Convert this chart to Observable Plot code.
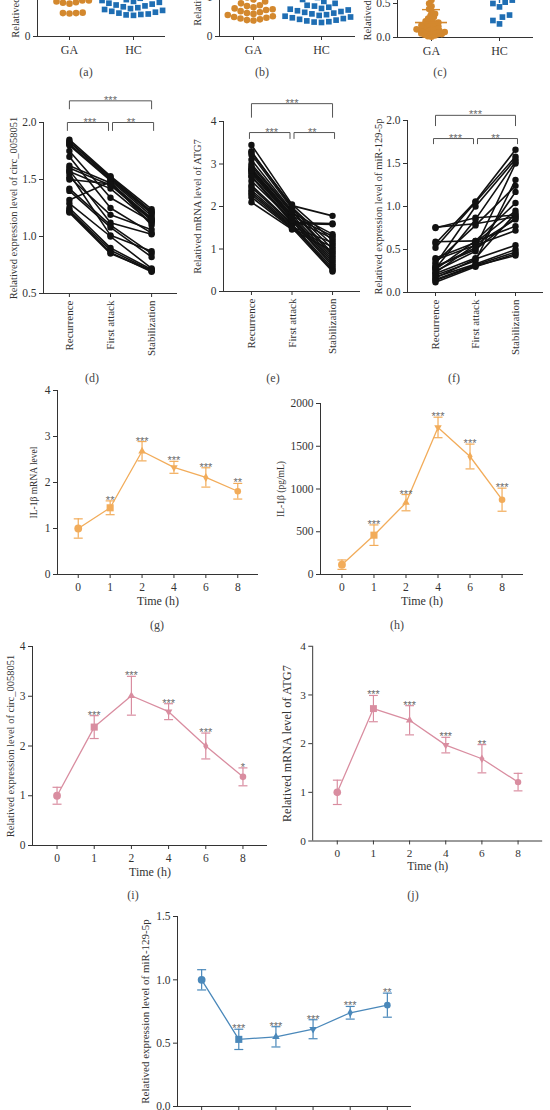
<!DOCTYPE html>
<html>
<head>
<meta charset="utf-8">
<script src="https://cdn.jsdelivr.net/npm/d3@7"></script>
<script src="https://cdn.jsdelivr.net/npm/@observablehq/plot@0.6"></script>
<style>
  html, body { margin: 0; padding: 0; background: #fff; }
  #page { position: relative; width: 550px; height: 1110px; overflow: hidden; background: #fff; }
  .panel { position: absolute; }
  .tag { position: absolute; font: 12px 'Liberation Serif', serif; color: #444; transform: translate(-50%, -50%); white-space: nowrap; }
  g[aria-label="stars"] text { letter-spacing: 1.2px; }
</style>
</head>
<body>
<div id="page"></div>
<script>
// ---------------- DATA ----------------
// Top row (a)-(c): individual values, GA vs HC
const groups = ["GA", "HC"];
const aGA = [0.51,0.52,0.52,0.53,0.73,0.75,0.76,0.78,0.80,0.80,0.90,0.95,1.00,1.05,1.10,1.20,1.25,1.35,1.45,1.60,1.75,1.90];
const aHC = [0.47,0.48,0.49,0.50,0.52,0.54,0.56,0.58,0.60,0.62,0.64,0.66,0.68,0.70,0.72,0.74,0.76,0.78,0.80,0.82,0.85,0.88,0.90,0.95,1.00,1.05,1.10,1.15,1.20,1.30];
const bGA = [0.41,0.42,0.44,0.46,0.48,0.50,0.52,0.55,0.58,0.60,0.62,0.65,0.68,0.70,0.72,0.75,0.78,0.80,0.85,0.90,0.95,1.00,1.10,1.20,1.30,1.50];
const bHC = [0.36,0.37,0.38,0.40,0.42,0.44,0.46,0.48,0.50,0.52,0.54,0.56,0.58,0.60,0.62,0.64,0.66,0.68,0.70,0.72,0.75,0.78,0.80,0.85,0.90,0.95,1.00,1.10];
const cGA = [0.01,0.02,0.03,0.04,0.05,0.05,0.06,0.07,0.08,0.08,0.09,0.10,0.10,0.11,0.12,0.13,0.14,0.15,0.16,0.17,0.18,0.19,0.20,0.21,0.22,0.24,0.26,0.28,0.30,0.32,0.35,0.38,0.42,0.46,0.50,0.55,0.60];
const cHC = [0.20,0.25,0.30,0.33,0.45,0.50,0.52,0.55,0.60,0.70,0.80,0.90,1.00,1.10];
const cMean = [0.22, 0.72];
const cSD = [0.19, 0.22];

// Middle row (d)-(f): paired values per patient
const stages = ["Recurrence", "First attack", "Stabilization"];
const dRec   = [1.85,1.83,1.81,1.80,1.75,1.70,1.62,1.60,1.58,1.55,1.52,1.42,1.40,1.32,1.29,1.25,1.23,1.22,1.21,1.57,1.50,1.83];
const dFirst = [1.53,1.52,1.50,1.49,1.34,1.25,1.47,1.45,1.12,1.01,1.19,1.10,1.08,1.48,1.00,0.90,0.88,0.86,0.85,1.42,1.46,1.51];
const dStab  = [1.24,1.22,1.20,1.18,1.13,1.03,1.16,1.14,1.02,0.87,1.06,0.85,0.82,1.10,0.72,0.71,0.70,0.69,0.70,1.12,1.15,1.21];
const eRec   = [3.45,3.30,3.27,3.22,3.10,2.95,2.90,2.87,2.82,2.78,2.72,2.70,2.50,2.45,2.38,2.33,2.28,2.22,2.10,2.60,3.00,2.85];
const eFirst = [2.05,1.98,2.02,1.95,1.90,1.85,1.80,1.78,1.72,1.70,1.66,1.62,1.60,1.58,1.55,1.52,1.50,1.48,1.46,1.68,1.88,1.75];
const eStab  = [1.20,1.10,1.78,1.00,0.90,1.35,0.80,1.30,0.70,1.25,0.60,1.60,1.58,0.55,0.50,1.15,0.47,1.05,0.95,0.65,0.85,0.75];
const fRec   = [0.76,0.75,0.59,0.57,0.52,0.40,0.38,0.33,0.30,0.28,0.25,0.22,0.20,0.18,0.15,0.12,0.35,0.27,0.23,0.17,0.30,0.14];
const fFirst = [0.80,0.87,0.60,1.06,1.05,0.58,0.55,1.00,0.50,0.85,0.48,0.40,0.37,0.33,0.32,0.30,0.78,0.60,0.56,0.39,0.52,0.31];
const fStab  = [0.88,0.90,0.77,1.66,1.58,0.95,0.72,1.55,0.87,1.52,1.17,0.92,1.31,0.50,0.47,0.45,1.24,1.04,0.85,0.55,1.50,0.43];
const pairSig = ["***", "**", "***"]; // Rec–First, First–Stab, Rec–Stab

// Time courses (g)-(k)
const times = ["0", "1", "2", "4", "6", "8"];
const gMean = [1.00, 1.45, 2.68, 2.33, 2.11, 1.81];
const gErr  = [0.21, 0.15, 0.21, 0.13, 0.21, 0.17];
const gSig  = ["", "**", "***", "***", "***", "**"];
const hMean = [115, 460, 840, 1720, 1380, 875];
const hErr  = [55, 120, 95, 120, 145, 135];
const hSig  = ["", "***", "***", "***", "***", "***"];
const iMean = [1.00, 2.38, 3.01, 2.69, 2.00, 1.38];
const iErr  = [0.17, 0.23, 0.39, 0.16, 0.26, 0.18];
const iSig  = ["", "***", "***", "***", "***", "*"];
const jMean = [1.00, 2.72, 2.48, 1.97, 1.69, 1.21];
const jErr  = [0.25, 0.27, 0.30, 0.16, 0.29, 0.18];
const jSig  = ["", "***", "***", "***", "**", ""];
const kMean = [1.00, 0.53, 0.55, 0.61, 0.74, 0.80];
const kErr  = [0.08, 0.08, 0.08, 0.075, 0.05, 0.095];
const kSig  = ["", "***", "***", "***", "***", "**"];

// ---------------- STYLE ----------------
const FONT = "'Liberation Serif', serif";
const axisColor = "#333";
const starColor = "#6a6a6a";
const orangeTop = "#D3882E", blueTop = "#1F6EB3";
const orange = "#F2AC5A", pink = "#D98DA0", blue = "#4A88BA";

const sqrt3 = Math.sqrt(3);
const triDown = { draw(ctx, size) { const y = -Math.sqrt(size / (sqrt3 * 3)); ctx.moveTo(0, -y * 2); ctx.lineTo(-sqrt3 * y, y); ctx.lineTo(sqrt3 * y, y); ctx.closePath(); } };
const cap = { draw(ctx, size) { const w = Math.sqrt(size / Math.PI); ctx.moveTo(-w, 0); ctx.lineTo(w, 0); } };
const markerSymbols = ["circle", "square", "triangle", triDown, "diamond", "circle"];
const markerR = [3.9, 4.0, 2.8, 2.8, 2.7, 3.3];

const page = document.getElementById("page");
function place(node, left, top) {
  const div = document.createElement("div");
  div.className = "panel";
  div.style.left = left + "px";
  div.style.top = top + "px";
  div.appendChild(node);
  page.appendChild(div);
}
function tag(text, x, y) {
  const d = document.createElement("div");
  d.className = "tag";
  d.textContent = text;
  d.style.left = x + "px";
  d.style.top = y + "px";
  page.appendChild(d);
}
const baseStyle = { fontFamily: FONT, fontSize: "11px", color: axisColor, background: "transparent", overflow: "visible" };

// ---------------- TOP ROW: dot plots ----------------
function swarm({ga, hc, yDomain, yTicks, fmt, label, labelDx = -22, mL, fW, fH, mean, sd, gaPad = 0}) {
  const mT = 10, mB = 40, mR = 4;
  const rows = ga.map(v => ({g: "GA", v})).concat(hc.map(v => ({g: "HC", v})));
  const marks = [
    Plot.ruleY([yDomain[0]], {stroke: axisColor, strokeWidth: 1.2}),
    Plot.ruleX([{g: "GA", x: 0}], {fx: "g", x: "x", y1: yDomain[0], y2: yDomain[1], stroke: axisColor}),
    Plot.axisY({ticks: yTicks, tickFormat: fmt, tickSize: 4, tickPadding: 3, label: null, fontSize: 11.5}),
    Plot.axisFx({anchor: "bottom", tickSize: 4, tickPadding: 5, label: null, fontSize: 12}),
    Plot.text([{g: "GA", t: label}], {fx: "g", text: "t", frameAnchor: "left", textAnchor: "middle", rotate: -90, dx: labelDx, fontSize: 10.5}),
    Plot.dot(rows.filter(d => d.g === "GA"), Plot.dodgeX({anchor: "middle", padding: gaPad}, {fx: "g", y: "v", r: 3.3, fill: orangeTop})),
    Plot.dot(rows.filter(d => d.g === "HC"), Plot.dodgeX("middle", {fx: "g", y: "v", r: 3.2, symbol: "square", fill: blueTop}))
  ];
  if (mean) {
    const stats = groups.map((g, i) => ({g, m: mean[i], lo: Math.max(0, mean[i] - sd[i]), hi: mean[i] + sd[i], c: i ? blueTop : orangeTop}));
    stats.forEach(s => {
      marks.push(Plot.ruleX([s], {fx: "g", x: () => 0.5, y1: "lo", y2: "hi", stroke: s.c, strokeWidth: 1.4}));
      marks.push(Plot.tickY([s], {fx: "g", y: "m", stroke: s.c, strokeWidth: 1.6, insetLeft: 18, insetRight: 18}));
      marks.push(Plot.tickY([s], {fx: "g", y: "hi", stroke: s.c, strokeWidth: 1.4, insetLeft: 25, insetRight: 25}));
    });
  }
  return Plot.plot({
    width: mL + fW + mR, height: mT + fH + mB,
    marginLeft: mL, marginRight: mR, marginTop: mT, marginBottom: mB,
    style: baseStyle,
    fx: {domain: groups, padding: 0, axis: null},
    x: {domain: [0, 1], axis: null},
    y: {domain: yDomain, axis: null},
    marks
  });
}

place(swarm({ga: aGA, hc: aHC, yDomain: [0, 4], yTicks: [0,1,2,3,4], fmt: d3.format("d"),
  label: "Relatived expression level of circ_0058051", mL: 37, fW: 128, fH: 180}), 0, 36 - 190);
place(swarm({ga: bGA, hc: bHC, yDomain: [0, 4], yTicks: [0,1,2,3,4], fmt: d3.format("d"),
  label: "Relatived mRNA level of ATG7", mL: 38, fW: 137, fH: 156}), 180, 36 - 166);
place(swarm({ga: cGA, hc: cHC, yDomain: [0, 2.5], yTicks: [0,0.5,1,1.5,2,2.5], fmt: d3.format(".1f"),
  label: "Relatived expression level of miR-129-5p", labelDx: -30, mL: 36, fW: 137, fH: 170, mean: cMean, sd: cSD, gaPad: -3}), 360, 37 - 180);

// ---------------- MIDDLE ROW: paired lines ----------------
function paired({rec, first, stab, yDomain, yTicks, fmt, label, labelDx, mL, fW, mT, fH, pad, inner, outer}) {
  const mB = 70, mR = 4;
  const rows = [];
  [rec, first, stab].forEach((arr, ci) => arr.forEach((v, id) => rows.push({id, ci, v})));
  const xDomain = [-pad, stages.length - 1 + pad];
  const bracket = (a, b, top, drop) => [{x: a, y: top - drop}, {x: a, y: top}, {x: b, y: top}, {x: b, y: top - drop}];
  return Plot.plot({
    width: mL + fW + mR, height: mT + fH + mB,
    marginLeft: mL, marginRight: mR, marginTop: mT, marginBottom: mB,
    style: baseStyle,
    x: {domain: xDomain, axis: null},
    y: {domain: yDomain, axis: null},
    marks: [
      Plot.ruleX([xDomain[0]], {y1: yDomain[0], y2: yDomain[1], stroke: axisColor}),
      Plot.ruleY([yDomain[0]], {stroke: axisColor}),
      Plot.axisY({ticks: yTicks, tickFormat: fmt, tickSize: 4, tickPadding: 3, label: null, fontSize: 11.5}),
      Plot.axisX({ticks: d3.range(stages.length), tickFormat: i => stages[i], tickRotate: -90, tickSize: 4, tickPadding: 3, label: null, fontSize: 11}),
      Plot.text([label], {frameAnchor: "left", textAnchor: "middle", rotate: -90, dx: labelDx, fontSize: 10.5}),
      Plot.line(rows, {x: "ci", y: "v", z: "id", stroke: "#111", strokeWidth: 1.6}),
      Plot.dot(rows, {x: "ci", y: "v", r: 3.2, fill: "#111"}),
      Plot.line(bracket(0, 1, inner[0], inner[1]), {x: "x", y: "y", stroke: "#555", strokeWidth: 1, dx: -2}),
      Plot.line(bracket(1, 2, inner[0], inner[1]), {x: "x", y: "y", stroke: "#555", strokeWidth: 1, dx: 2}),
      Plot.line(bracket(0, 2, outer[0], outer[1]), {x: "x", y: "y", stroke: "#555", strokeWidth: 1}),
      Plot.text([{x: 0.5, y: inner[0], s: pairSig[0]}, {x: 1.5, y: inner[0], s: pairSig[1]}, {x: 1, y: outer[0], s: pairSig[2]}],
        {x: "x", y: "y", text: "s", lineAnchor: "bottom", dy: 3, fill: starColor, fontSize: 11, fontFamily: "'Liberation Sans', sans-serif", ariaLabel: "stars"})
    ]
  });
}

place(paired({rec: dRec, first: dFirst, stab: dStab, yDomain: [0.5, 2.0], yTicks: [0.5,1,1.5,2], fmt: d3.format(".1f"),
  label: "Relatived expression level of circ_0058051", labelDx: -30, mL: 43, fW: 134, mT: 42, fH: 171, pad: 0.63,
  inner: [2.0, 0.07], outer: [2.19, 0.07]}), 0, 80);
place(paired({rec: eRec, first: eFirst, stab: eStab, yDomain: [0, 4], yTicks: [0,1,2,3,4], fmt: d3.format("d"),
  label: "Relatived mRNA level of ATG7", labelDx: -26, mL: 43, fW: 137, mT: 41, fH: 170, pad: 0.69,
  inner: [3.74, 0.14], outer: [4.42, 0.32]}), 180, 80);
place(paired({rec: fRec, first: fFirst, stab: fStab, yDomain: [0, 2], yTicks: [0,0.5,1,1.5,2], fmt: d3.format(".1f"),
  label: "Relatived expression level of miR-129-5p", labelDx: -29, mL: 47, fW: 136, mT: 40, fH: 172, pad: 0.7,
  inner: [1.79, 0.06], outer: [2.06, 0.12]}), 360, 80);

// ---------------- TIME COURSES ----------------
function timeChart({means, errs, sigs, color, yDomain, yTicks, fmt, label, labelDx, labelSize, mL, fW, mT, fH, pad}) {
  const mB = 45, mR = 8;
  const rows = times.map((t, i) => ({i, mean: means[i], lo: means[i] - errs[i], hi: means[i] + errs[i], sig: sigs[i]}));
  const xDomain = [-pad, times.length - 1 + pad];
  return Plot.plot({
    width: mL + fW + mR, height: mT + fH + mB,
    marginLeft: mL, marginRight: mR, marginTop: mT, marginBottom: mB,
    style: baseStyle,
    x: {domain: xDomain, axis: null},
    y: {domain: yDomain, axis: null},
    marks: [
      Plot.ruleX([xDomain[0]], {y1: yDomain[0], y2: yDomain[1], stroke: axisColor}),
      Plot.ruleY([yDomain[0]], {stroke: axisColor}),
      Plot.axisY({ticks: yTicks, tickFormat: fmt, tickSize: 4, tickPadding: 3, label: null, fontSize: 11.5}),
      Plot.axisX({ticks: d3.range(times.length), tickFormat: i => times[i], tickSize: 4, tickPadding: 4, label: null, fontSize: 11.5}),
      Plot.text([label], {frameAnchor: "left", textAnchor: "middle", rotate: -90, dx: labelDx, fontSize: labelSize}),
      Plot.text(["Time (h)"], {frameAnchor: "bottom", dy: 30, fontSize: 12}),
      Plot.line(rows, {x: "i", y: "mean", stroke: color, strokeWidth: 1.3}),
      Plot.ruleX(rows, {x: "i", y1: "lo", y2: "hi", stroke: color, strokeWidth: 1.2}),
      Plot.dot(rows, {x: "i", y: "hi", symbol: cap, r: 4.5, stroke: color, strokeWidth: 1.2, fill: "none"}),
      Plot.dot(rows, {x: "i", y: "lo", symbol: cap, r: 4.5, stroke: color, strokeWidth: 1.2, fill: "none"}),
      ...rows.map((d, k) => Plot.dot([d], {x: "i", y: "mean", symbol: markerSymbols[k], r: markerR[k], fill: color, stroke: "none"})),
      Plot.text(rows.filter(d => d.sig), {x: "i", y: "hi", text: "sig", lineAnchor: "bottom", dy: 3, fill: starColor, fontSize: 11,
        fontFamily: "'Liberation Sans', sans-serif", ariaLabel: "stars"})
    ]
  });
}

place(timeChart({means: gMean, errs: gErr, sigs: gSig, color: orange, yDomain: [0, 4], yTicks: [0,1,2,3,4], fmt: d3.format("d"),
  label: "IL-1β mRNA level", labelDx: -24, labelSize: 9.5, mL: 57, fW: 201, mT: 10, fH: 184, pad: 0.65}), 0, 380);
place(timeChart({means: hMean, errs: hErr, sigs: hSig, color: orange, yDomain: [0, 2000], yTicks: [0,500,1000,1500,2000], fmt: d3.format("d"),
  label: "IL-1β (pg/mL)", labelDx: -40, labelSize: 9.5, mL: 45, fW: 203, mT: 23, fH: 171, pad: 0.67}), 275, 380);
place(timeChart({means: iMean, errs: iErr, sigs: iSig, color: pink, yDomain: [0, 4], yTicks: [0,1,2,3,4], fmt: d3.format("d"),
  label: "Relatived expression level of circ_0058051", labelDx: -22, labelSize: 10.5, mL: 32, fW: 235, mT: 10, fH: 199, pad: 0.66}), 0, 636);
place(timeChart({means: jMean, errs: jErr, sigs: jSig, color: pink, yDomain: [0, 4], yTicks: [0,1,2,3,4], fmt: d3.format("d"),
  label: "Relatived mRNA level of ATG7", labelDx: -26, labelSize: 12.5, mL: 38, fW: 235, mT: 10, fH: 199, pad: 0.68}), 275, 636);
place(timeChart({means: kMean, errs: kErr, sigs: kSig, color: blue, yDomain: [0, 1.5], yTicks: [0,0.5,1,1.5], fmt: d3.format(".1f"),
  label: "Relatived expression level of miR-129-5p", labelDx: -32, labelSize: 11, mL: 57, fW: 234, mT: 10, fH: 190, pad: 0.65}), 120, 906);

// ---------------- PANEL TAGS ----------------
[["(a)", 86, 72], ["(b)", 262, 72], ["(c)", 440, 72],
 ["(d)", 92, 378], ["(e)", 273, 378], ["(f)", 454, 378],
 ["(g)", 157, 625], ["(h)", 397, 625],
 ["(i)", 133, 895], ["(j)", 413, 895]].forEach(([t, x, y]) => tag(t, x, y));
</script>
</body>
</html>
